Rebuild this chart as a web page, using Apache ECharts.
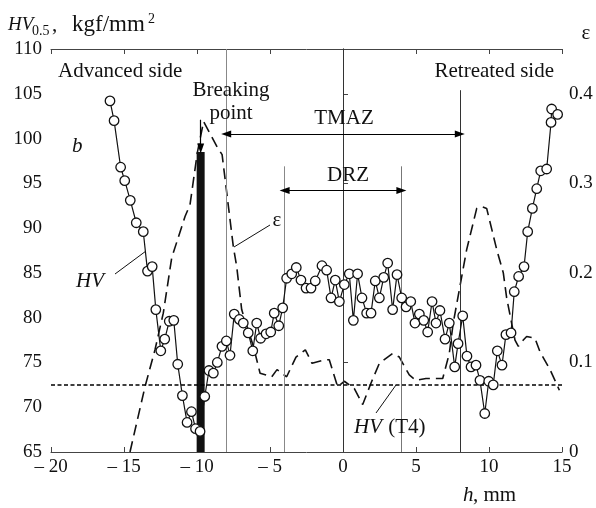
<!DOCTYPE html>
<html>
<head>
<meta charset="utf-8">
<script src="https://cdn.jsdelivr.net/npm/echarts@6/dist/echarts.min.js"></script>
<style>
html, body { margin: 0; padding: 0; background: #fff; }
#main { width: 596px; height: 508px; }
</style>
</head>
<body>
<div id="main"></div>
<script>
// hardness HV0.5 across the weld (h, mm)
var hvX = [-15.96, -15.68, -15.23, -14.95, -14.57, -14.16, -13.68, -13.39, -13.07, -12.82,
  -12.48, -12.21, -11.90, -11.59, -11.32, -11.00, -10.68, -10.38, -10.10, -9.79,
  -9.47, -9.18, -8.88, -8.61, -8.29, -7.99, -7.74, -7.45, -7.10, -6.83,
  -6.49, -6.18, -5.91, -5.64, -5.27, -4.95, -4.71, -4.40, -4.13, -3.86,
  -3.51, -3.20, -2.88, -2.53, -2.19, -1.90, -1.44, -1.12, -0.82, -0.53,
  -0.25, 0.09, 0.43, 0.71, 1.00, 1.30, 1.62, 1.92, 2.21, 2.49,
  2.79, 3.06, 3.40, 3.70, 4.02, 4.32, 4.64, 4.93, 5.23, 5.53,
  5.80, 6.10, 6.37, 6.64, 6.99, 7.28, 7.65, 7.88, 8.20, 8.49,
  8.77, 9.11, 9.38, 9.71, 9.98, 10.29, 10.57, 10.89, 11.16, 11.51,
  11.73, 12.03, 12.40, 12.65, 12.97, 13.27, 13.54, 13.95, 14.25, 14.29, 14.70];
var hvY = [104.2, 102.0, 96.8, 95.3, 93.1, 90.6, 89.6, 85.2, 85.7, 80.9,
  76.3, 77.6, 79.6, 79.7, 74.8, 71.3, 68.3, 69.5, 67.6, 67.3,
  71.2, 74.1, 73.8, 75.0, 76.8, 77.4, 75.8, 80.4, 79.8, 79.4,
  78.3, 76.3, 79.4, 77.7, 78.2, 78.4, 80.5, 79.1, 81.1, 84.4,
  84.9, 85.6, 84.2, 83.3, 83.3, 84.1, 85.8, 85.3, 82.2, 84.2,
  81.8, 83.7, 84.9, 79.7, 84.9, 82.2, 80.5, 80.5, 84.1, 82.2,
  84.5, 86.1, 80.9, 84.8, 82.2, 81.2, 81.8, 79.4, 80.4, 79.7,
  78.4, 81.8, 79.4, 80.8, 77.6, 79.4, 74.5, 77.1, 80.2, 75.7,
  74.5, 74.7, 73.0, 69.3, 72.9, 72.5, 76.3, 74.7, 78.1, 78.3,
  82.9, 84.6, 85.7, 89.6, 92.2, 94.4, 96.4, 96.6, 101.8, 103.3, 102.7];

// strain epsilon (right axis)
var epsX = [-14.59, -13.56, -12.88, -12.31, -11.73, -10.82, -10.48, -9.98, -9.55, -8.60,
  -8.28, -7.51, -7.28, -6.94, -6.14, -5.68, -4.88, -4.52, -3.86, -3.22,
  -2.58, -2.12, -1.23, -0.94, -0.37, 0.09, 0.77, 1.35, 1.92, 2.49,
  3.40, 3.86, 4.54, 5.00, 5.68, 6.83, 7.28, 7.55, 8.47, 9.16,
  9.50, 9.84, 10.53, 10.98, 11.21, 11.78, 12.01, 12.35, 12.58, 13.15,
  13.49, 14.18, 14.82];
var epsY = [0.0, 0.073, 0.114, 0.155, 0.217, 0.263, 0.276, 0.334, 0.369, 0.340,
  0.332, 0.229, 0.207, 0.159, 0.118, 0.088, 0.084, 0.092, 0.084, 0.106,
  0.114, 0.099, 0.103, 0.103, 0.073, 0.079, 0.071, 0.053, 0.077, 0.099,
  0.110, 0.106, 0.086, 0.080, 0.082, 0.082, 0.110, 0.144, 0.226, 0.272,
  0.274, 0.272, 0.226, 0.200, 0.172, 0.125, 0.118, 0.125, 0.129, 0.127,
  0.112, 0.092, 0.069];

// breaking point bar and reference values
var breakX = -9.75;
var breakTop = 98.5;
var hvT4 = 72.5;
var zoneLines = [-8, -4, 0, 4, 8];
var zoneTops = [110, 96.9, 110, 96.9, 105.4];
var tmaz = [-8, 8, 100.5];
var drz = [-4, 4, 94.2];

var hvData = hvX.map(function (x, i) { return [x, hvY[i]]; });
var epsData = epsX.map(function (x, i) { return [x, epsY[i]]; });

var serif = 'Liberation Serif';
var zoneColors = ['#888', '#888', '#333', '#777', '#333'];

var marks = zoneLines.map(function (x, i) {
  return [{ coord: [x, 65], symbol: 'none', lineStyle: { color: zoneColors[i], width: 1, type: 'solid' } },
          { coord: [x, zoneTops[i]], symbol: 'none' }];
});
var arrowStyle = { color: '#000', width: 1.2, type: 'solid' };
marks.push([{ coord: [tmaz[0], tmaz[2]], lineStyle: arrowStyle, symbol: 'triangle' }, { coord: [tmaz[1], tmaz[2]], symbol: 'triangle' }]);
marks.push([{ coord: [drz[0], drz[2]], lineStyle: arrowStyle, symbol: 'triangle' }, { coord: [drz[1], drz[2]], symbol: 'triangle' }]);
marks.push([{ coord: [breakX, 102.1], lineStyle: arrowStyle, symbol: 'none' }, { coord: [breakX, 98.9], symbol: 'triangle' }]);
marks.push([{ coord: [-20, hvT4], lineStyle: { color: '#000', width: 1.5, type: [4, 2.5] }, symbol: 'none' }, { coord: [15, hvT4], symbol: 'none' }]);

function txt(x, y, s, opt) {
  opt = opt || {};
  return {
    type: 'text', x: x, y: y, silent: true, z: 100,
    style: {
      text: s, fill: '#111',
      font: (opt.italic ? 'italic ' : '') + (opt.size || 21) + 'px "' + serif + '"',
      align: opt.align || 'left', verticalAlign: 'middle'
    }
  };
}
function seg(x1, y1, x2, y2) {
  return { type: 'line', silent: true, z: 100, shape: { x1: x1, y1: y1, x2: x2, y2: y2 }, style: { stroke: '#111', lineWidth: 1 } };
}

var chart = echarts.init(document.getElementById('main'));
chart.setOption({
  animation: false,
  backgroundColor: '#fff',
  grid: { left: 51, right: 34, top: 49, bottom: 56, outerBoundsMode: 'none' },
  xAxis: [{
    type: 'value', min: -20, max: 15, interval: 5, position: 'bottom',
    axisLine: { lineStyle: { color: '#444', width: 1 } },
    axisTick: { inside: true, length: 5, lineStyle: { color: '#444' } },
    splitLine: { show: false },
    axisLabel: {
      color: '#111', fontFamily: serif, fontSize: 19, margin: 6,
      formatter: function (v) { return v < 0 ? '\u2013 ' + Math.abs(v) : String(v); }
    }
  }, {
    type: 'value', min: -20, max: 15, interval: 5, position: 'top',
    axisLine: { lineStyle: { color: '#444', width: 1 } },
    axisTick: { inside: true, length: 5, lineStyle: { color: '#444' } },
    splitLine: { show: false },
    axisLabel: { show: false }
  }],
  yAxis: [{
    type: 'value', min: 65, max: 110, interval: 5, position: 'left',
    axisLine: { show: true, lineStyle: { color: '#444', width: 1 } },
    axisTick: { show: false },
    splitLine: { show: false },
    axisLabel: { color: '#111', fontFamily: serif, fontSize: 19, margin: 9 }
  }, {
    type: 'value', min: 0, max: 0.45, interval: 0.1, position: 'right',
    axisLine: { show: true, lineStyle: { color: '#444', width: 1 } },
    axisTick: { show: true, length: 5, lineStyle: { color: '#444' } },
    splitLine: { show: false },
    axisLabel: {
      color: '#111', fontFamily: serif, fontSize: 19, margin: 7,
      formatter: function (v) {
        var r = Math.round(v * 10) / 10;
        if (Math.abs(r - v) > 1e-6) return '';
        return r === 0 ? '0' : r.toFixed(1);
      }
    }
  }],
  series: [{
    name: 'eps', type: 'line', xAxisIndex: 0, yAxisIndex: 1,
    data: epsData, showSymbol: false, symbol: 'none', z: 2,
    lineStyle: { color: '#111', width: 1.6, type: [11, 6] }
  }, {
    name: 'break', type: 'line', xAxisIndex: 0, yAxisIndex: 0,
    data: [[breakX, 65], [breakX, breakTop]], symbol: 'none', z: 3,
    lineStyle: { color: '#111', width: 8, cap: 'butt' },
    markLine: {
      silent: true, symbol: ['none', 'none'], symbolSize: [7, 10], label: { show: false },
      emphasis: { disabled: true },
      data: marks
    }
  }, {
    name: 'HV', type: 'line', xAxisIndex: 0, yAxisIndex: 0,
    data: hvData, symbol: 'circle', symbolSize: 9.5, z: 5,
    lineStyle: { color: '#111', width: 1.2 },
    itemStyle: { color: '#fff', borderColor: '#111', borderWidth: 1.3 }
  }],
  graphic: [
    txt(8, 25, 'HV', { italic: true, size: 19 }),
    txt(32, 31, '0.5', { size: 14 }),
    txt(52, 25, ','),
    txt(72, 25, 'kgf/mm', { size: 23 }),
    txt(148, 19, '2', { size: 14 }),
    txt(586, 33, '\u03b5', { align: 'center' }),
    txt(58, 71, 'Advanced side'),
    txt(554, 71, 'Retreated side', { align: 'right' }),
    txt(231, 90, 'Breaking', { align: 'center' }),
    txt(231, 113, 'point', { align: 'center' }),
    txt(72, 146, 'b', { italic: true }),
    txt(344, 118, 'TMAZ', { align: 'center' }),
    txt(348, 175, 'DRZ', { align: 'center' }),
    txt(277, 220, '\u03b5', { align: 'center' }),
    txt(90, 281, 'HV', { italic: true, align: 'center' }),
    txt(354, 427, 'HV', { italic: true }),
    txt(383, 427, ' (T4)'),
    txt(463, 495, 'h', { italic: true }),
    txt(473, 495, ', mm')
  ].concat([
    seg(115, 274, 146, 251),
    seg(270, 225, 234, 247),
    seg(376, 413, 396, 385)
  ])
});
</script>
</body>
</html>
